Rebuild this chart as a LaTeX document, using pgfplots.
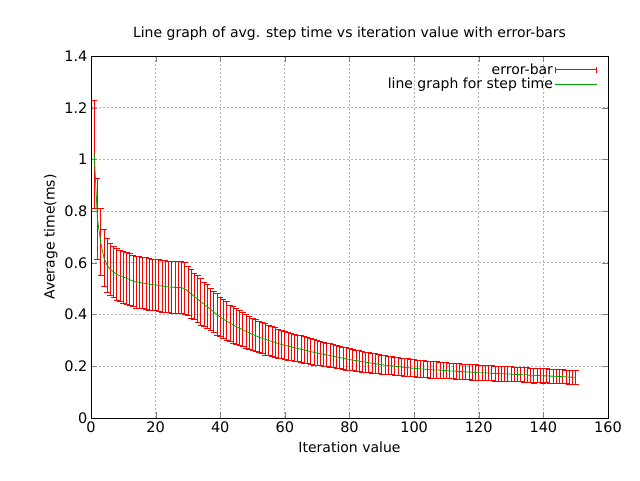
\documentclass[border=0pt]{standalone}
\usepackage{pgfplots}
\pgfplotsset{compat=1.18}
\usepackage{pgfplotstable}
\usepackage{fontspec}
\setmainfont{DejaVu Sans}
\pgfplotstableread{
x y e
1 1.02 0.21
2 0.77 0.155
3 0.68 0.13
4 0.62 0.11
5 0.59 0.105
6 0.575 0.10
7 0.565 0.10
8 0.555 0.10
9 0.55 0.10
10 0.545 0.10
11 0.54 0.10
12 0.535 0.10
13 0.53 0.10
14 0.525 0.10
15 0.525 0.10
16 0.522 0.10
17 0.52 0.10
18 0.518 0.10
19 0.515 0.10
20 0.515 0.10
21 0.512 0.10
22 0.51 0.10
23 0.508 0.10
24 0.507 0.10
25 0.506 0.10
26 0.505 0.10
27 0.505 0.10
28 0.504 0.10
29 0.50 0.10
30 0.49 0.095
31 0.48 0.095
32 0.47 0.09
33 0.46 0.09
34 0.45 0.09
35 0.44 0.085
36 0.43 0.085
37 0.42 0.08
38 0.41 0.08
39 0.40 0.08
40 0.39 0.075
41 0.382 0.075
42 0.375 0.075
43 0.367 0.07
44 0.36 0.07
45 0.353 0.07
46 0.347 0.068
47 0.341 0.066
48 0.335 0.065
49 0.329 0.064
50 0.323 0.063
51 0.318 0.062
52 0.313 0.061
53 0.308 0.06
54 0.304 0.06
55 0.30 0.059
56 0.296 0.058
57 0.292 0.057
58 0.288 0.056
59 0.284 0.055
60 0.281 0.055
61 0.278 0.054
62 0.275 0.054
63 0.272 0.053
64 0.269 0.052
65 0.266 0.052
66 0.263 0.051
67 0.26 0.050
68 0.257 0.050
69 0.254 0.049
70 0.251 0.048
71 0.249 0.047
72 0.246 0.047
73 0.244 0.046
74 0.241 0.046
75 0.239 0.045
76 0.236 0.044
77 0.234 0.044
78 0.231 0.043
79 0.229 0.043
80 0.226 0.042
81 0.224 0.041
82 0.222 0.041
83 0.22 0.040
84 0.218 0.040
85 0.216 0.039
86 0.214 0.039
87 0.212 0.038
88 0.21 0.038
89 0.208 0.037
90 0.206 0.037
91 0.205 0.036
92 0.203 0.036
93 0.202 0.035
94 0.200 0.035
95 0.199 0.035
96 0.197 0.034
97 0.196 0.034
98 0.195 0.034
99 0.193 0.033
100 0.192 0.033
101 0.191 0.033
102 0.190 0.033
103 0.189 0.032
104 0.188 0.032
105 0.187 0.032
106 0.186 0.032
107 0.186 0.031
108 0.185 0.031
109 0.184 0.031
110 0.183 0.031
111 0.182 0.030
112 0.182 0.030
113 0.181 0.030
114 0.180 0.030
115 0.179 0.030
116 0.178 0.030
117 0.178 0.030
118 0.177 0.030
119 0.176 0.030
120 0.175 0.030
121 0.175 0.029
122 0.174 0.029
123 0.174 0.029
124 0.173 0.029
125 0.172 0.029
126 0.172 0.029
127 0.171 0.029
128 0.171 0.029
129 0.170 0.029
130 0.170 0.029
131 0.169 0.028
132 0.168 0.028
133 0.168 0.028
134 0.167 0.028
135 0.167 0.028
136 0.164 0.028
137 0.163 0.028
138 0.165 0.028
139 0.164 0.028
140 0.163 0.028
141 0.163 0.027
142 0.162 0.027
143 0.162 0.027
144 0.161 0.027
145 0.160 0.027
146 0.160 0.027
147 0.159 0.027
148 0.158 0.027
149 0.158 0.027
150 0.157 0.027
}\data
\begin{document}
\begin{tikzpicture}
\begin{axis}[
  scale only axis, width=517pt, height=362pt,
  xmin=0, xmax=160, ymin=0, ymax=1.4,
  xtick={0,20,...,160}, ytick={0,0.2,...,1.4},
  yticklabel style={/pgf/number format/fixed},
  /pgf/number format/assume math mode=true,
  tick align=inside, tick pos=both,
  major tick length=6pt,
  grid=major, grid style={gray!60, dash pattern=on 1.6pt off 2.4pt, line width=0.8pt},
  axis line style={line width=0.8pt},
  font=\fontsize{14}{16}\selectfont,
  ticklabel style={font=\fontsize{14.5}{16}\selectfont},
  title={Line graph of avg. step time vs iteration value with error-bars},
  title style={yshift=6pt},
  xlabel={Iteration value}, ylabel={Average time(ms)},
  xlabel style={yshift=-2pt}, ylabel style={yshift=0pt},
  legend style={draw=none, fill=none, at={(0.985,0.99)}, anchor=north east,
    font=\fontsize{14}{16}\selectfont, row sep=-2pt},
  legend cell align=right, legend plot pos=right,
]
\addlegendimage{legend image code/.code={
  \draw[red, line width=0.8pt] (0cm,0cm) -- (1.45cm,0cm);
  \draw[red, line width=0.8pt] (0cm,-3pt) -- (0cm,3pt);
  \draw[red, line width=0.8pt] (1.45cm,-3pt) -- (1.45cm,3pt);}}
\addlegendentry{error-bar}
\addlegendimage{legend image code/.code={
  \draw[green!65!black, line width=0.8pt] (0cm,0cm) -- (1.45cm,0cm);}}
\addlegendentry{line graph for step time}
\addplot[draw=none, mark=none, forget plot,
  error bars/.cd, y dir=both, y explicit,
  error bar style={red, line width=0.8pt},
  error mark options={rotate=90, mark size=3pt, red, line width=0.8pt}]
  table[x=x, y=y, y error=e]{\data};
\addplot[green!65!black, line width=0.8pt, mark=none, forget plot] table[x=x, y=y]{\data};
\end{axis}
\useasboundingbox ([shift={(-91pt,-62pt)}]current axis.south west) rectangle ++(640pt,480pt);
\end{tikzpicture}
\end{document}
